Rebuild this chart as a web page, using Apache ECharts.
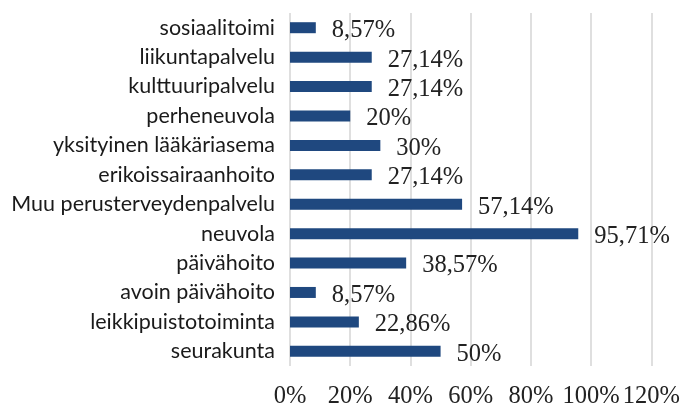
<!DOCTYPE html>
<html>
<head>
<meta charset="utf-8">
<script src="https://cdn.jsdelivr.net/npm/echarts@6/dist/echarts.min.js"></script>
<style>html,body{margin:0;padding:0;background:#fff}#c{width:683px;height:409px}</style>
</head>
<body>
<div id="c"></div>
<script>
const categories = ["sosiaalitoimi","liikuntapalvelu","kulttuuripalvelu","perheneuvola","yksityinen lääkäriasema","erikoissairaanhoito","Muu perusterveydenpalvelu","neuvola","päivähoito","avoin päivähoito","leikkipuistotoiminta","seurakunta"];
const values = [8.57,27.14,27.14,20,30,27.14,57.14,95.71,38.57,8.57,22.86,50];
const tickMax = 120;
const tickStep = 20;

const chart = echarts.init(document.getElementById('c'), null, {renderer:'canvas'});
chart.setOption({
  animation:false,
  grid:{left:290,right:30,top:13,bottom:40,containLabel:false},
  xAxis:{
    type:'value',min:0,max:tickMax,interval:tickStep,
    axisLine:{show:false},axisTick:{show:false},
    splitLine:{show:true,lineStyle:{color:'#d4d4d4',width:1.5}},
    axisLabel:{formatter:v=>v+'%',fontFamily:'Liberation Serif',fontSize:24.5,color:'#222',margin:18}
  },
  yAxis:{
    type:'category',data:categories,inverse:true,
    axisLine:{show:false},axisTick:{show:false},
    axisLabel:{fontFamily:'Lato',fontSize:21.5,color:'#1a1a1a',margin:15}
  },
  series:[{
    type:'bar',data:values,barWidth:11,
    itemStyle:{color:'#1f487f'},
    label:{show:true,position:'right',distance:16,offset:[0,3],
      formatter:p=>String(p.value).replace('.',',')+'%',
      fontFamily:'Liberation Serif',fontSize:24.5,color:'#222'}
  }]
});
</script>
</body>
</html>
